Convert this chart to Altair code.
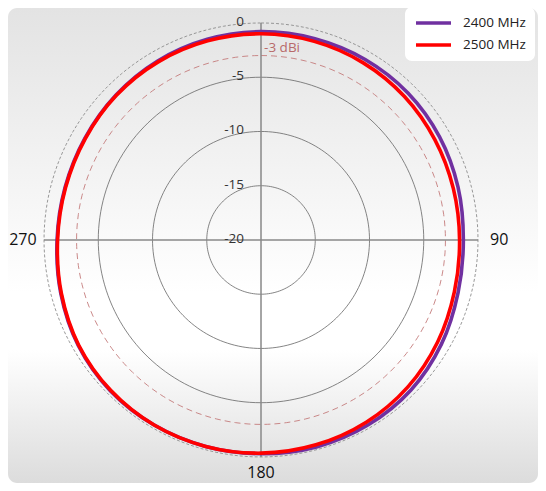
import altair as alt
import pandas as pd

# ---- data ----
angles = [0, 15, 30, 45, 60, 75, 90, 105, 120, 135, 150, 165,
          180, 195, 210, 225, 240, 255, 270, 285, 300, 315, 330, 345]
db_2400 = [-0.8, -0.8, -0.8, -0.85, -1.0, -1.2, -1.35, -1.2, -0.8, -0.45, -0.3, -0.25,
           -0.3, -0.3, -0.3, -0.35, -0.55, -0.9, -1.2, -1.3, -1.25, -1.1, -0.95, -0.85]
db_2500 = [-1.0, -1.05, -1.15, -1.3, -1.5, -1.65, -1.7, -1.55, -1.2, -0.85, -0.6, -0.45,
           -0.35, -0.3, -0.3, -0.4, -0.6, -0.95, -1.25, -1.35, -1.3, -1.15, -1.05, -1.0]
series = ["2400 MHz", "2500 MHz"]
series_colors = ["#7030a0", "#ff0000"]

ring_levels = [-15, -10, -5]      # solid grid rings
ref_levels = [-3]                 # dashed reference ring
outer_levels = [0]                # dotted outer ring
ring_labels = [-20, -15, -10, -5, 0]
side_labels = ["90", "270"]
side_angles = [90, 270]
bottom_labels = ["180"]
bottom_angles = [180]
ref_text = ["-3 dBi"]

floor_db = -20  # centre of the plot

pattern = pd.DataFrame({
    "angle": angles * 2,
    "db": db_2400 + db_2500,
    "series": [series[0]] * len(angles) + [series[1]] * len(angles),
})

W, H = 530, 475
xs = alt.Scale(domain=[-23.32, 25.53], nice=False, zero=False)
ys = alt.Scale(domain=[-22.40, 21.38], nice=False, zero=False)

def X(field="x"):
    return alt.X(f"{field}:Q", scale=xs, axis=None)

def Y(field="y"):
    return alt.Y(f"{field}:Q", scale=ys, axis=None)

# background
bg = alt.Chart(pd.DataFrame({"k": [0]})).mark_rect(
    cornerRadius=9,
    fill={"gradient": "linear", "x1": 0, "x2": 0, "y1": 0, "y2": 1,
          "stops": [{"offset": 0, "color": "#e3e3e3"},
                    {"offset": 0.6, "color": "#ffffff"},
                    {"offset": 0.72, "color": "#ffffff"},
                    {"offset": 1, "color": "#dcdcdc"}]},
).encode(x=alt.value(0), x2=alt.value("width"), y=alt.value(0), y2=alt.value("height"))


def rings(levels, **mk):
    return alt.Chart(pd.DataFrame({"level": levels})).transform_calculate(
        a="sequence(0, 362, 2)"
    ).transform_flatten(["a"]).transform_calculate(
        r=f"datum.level - ({floor_db})"
    ).transform_calculate(
        x="datum.r * sin(datum.a * PI / 180)",
        y="datum.r * cos(datum.a * PI / 180)",
    ).mark_line(**mk).encode(
        x=X(), y=Y(), detail="level:N", order="a:Q"
    )

grid = rings(ring_levels, color="#666666", strokeWidth=0.8)
ref_ring = rings(ref_levels, color="#c47c7c", strokeWidth=0.9, strokeDash=[6, 4])
outer_ring = rings(outer_levels, color="#8c8c8c", strokeWidth=0.9, strokeDash=[3, 2])

# axes cross
ax_df = pd.DataFrame({
    "x": [floor_db - outer_levels[0], 0],
    "x2": [outer_levels[0] - floor_db, 0],
    "y": [0, floor_db - outer_levels[0]],
    "y2": [0, outer_levels[0] - floor_db],
})
axes = alt.Chart(ax_df).mark_rule(color="#888888", strokeWidth=1.5).encode(
    x=X(), x2="x2:Q", y=Y(), y2="y2:Q"
)

# ring value labels
rl = alt.Chart(pd.DataFrame({"level": ring_labels})).transform_calculate(
    y=f"datum.level - ({floor_db})", x="0", txt="datum.level + ''"
).mark_text(align="right", baseline="middle", dx=-17, dy=-1, fontSize=13.5,
            font="Open Sans", color="#333333").encode(x=X(), y=Y(), text="txt:N")

# -3 dBi label
ref_lbl = alt.Chart(pd.DataFrame({"t": ref_text, "level": ref_levels})).transform_calculate(
    y=f"datum.level - ({floor_db}) + 0.7", x="0.28"
).mark_text(align="left", baseline="middle", fontSize=13.5, font="Open Sans",
            color="#b86a6a").encode(x=X(), y=Y(), text="t:N")

# direction labels
def dir_layer(labels, angs, r, dy):
    return alt.Chart(pd.DataFrame({"t": labels, "a": angs})).transform_calculate(
        r=str(r),
    ).transform_calculate(
        x="datum.r * sin(datum.a * PI / 180)",
        y="datum.r * cos(datum.a * PI / 180)",
    ).mark_text(align="center", baseline="middle", fontSize=16, font="Open Sans",
                dy=dy, color="#111111").encode(x=X(), y=Y(), text="t:N")

dl_side = dir_layer(side_labels, side_angles, 21.95, 0)
dl_bottom = dir_layer(bottom_labels, bottom_angles, 21.95, -5)

# antenna patterns
pat = alt.Chart(pattern).transform_calculate(
    r=f"datum.db - ({floor_db})"
).transform_calculate(
    x="datum.r * sin(datum.angle * PI / 180)",
    y="datum.r * cos(datum.angle * PI / 180)",
).mark_line(strokeWidth=3.6, interpolate="cardinal-closed").encode(
    x=X(), y=Y(), order="angle:Q",
    color=alt.Color("series:N", scale=alt.Scale(domain=series, range=series_colors),
                    legend=alt.Legend(title=None, orient="none", legendX=397, legendY=-1,
                                      symbolType="stroke", symbolSize=1225,
                                      symbolStrokeWidth=3.5, labelFontSize=13.5,
                                      labelFont="Open Sans", labelColor="#222222",
                                      labelOffset=10, fillColor="white", cornerRadius=7,
                                      clipHeight=14, padding=9, rowPadding=8)),
)

chart = alt.layer(bg, grid, ref_ring, outer_ring, axes, rl, ref_lbl, pat,
                  dl_side, dl_bottom).properties(
    width=W, height=H, padding=0,
    autosize=alt.AutoSizeParams(type="none"),
).configure_view(stroke=None)

chart.save("out.html", embed_options={"renderer": "svg", "actions": False})
